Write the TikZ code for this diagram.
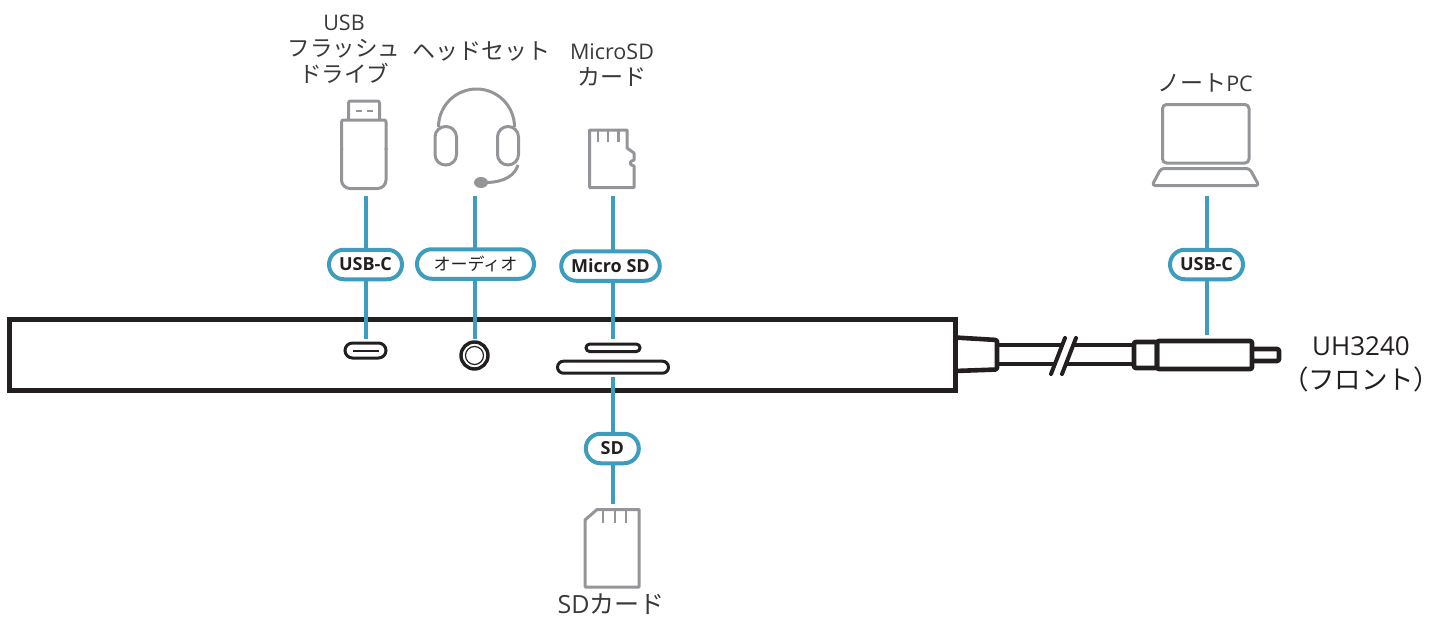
\documentclass[tikz,border=0pt]{standalone}
\usepackage{fontspec}
\setmainfont{Open Sans}
\newfontfamily\jp{Noto Sans CJK JP}
\newfontfamily\jpp[RawFeature=+palt]{Noto Sans CJK JP}
\usetikzlibrary{shapes.misc}
\definecolor{ink}{HTML}{231F20}
\definecolor{lab}{HTML}{3A3839}
\definecolor{icon}{HTML}{939598}
\definecolor{tealc}{HTML}{3E9DBF}
\tikzset{
  x=1pt,y=-1pt,
  link/.style={draw=tealc,line width=4pt},
  pill/.style={rounded rectangle,draw=tealc,line width=4pt,fill=white,inner sep=0pt,outer sep=0pt,font=\fontsize{18}{18}\selectfont\bfseries,text=ink,minimum height=29.5pt},
  ic/.style={draw=icon,line width=3pt,line join=round},
  hw/.style={draw=ink,line width=4.6pt,line join=round,rounded corners=1.5pt},
  hwbox/.style={draw=ink,line width=4.6pt,rounded corners=2pt,inner sep=0pt,outer sep=0pt,anchor=north west},
  slot/.style={rounded rectangle,draw=ink,line width=3pt,inner sep=0pt,outer sep=0pt},
  captxt/.style={inner sep=0pt,outer sep=0pt,align=center,text=lab,font=\fontsize{21.5}{26}\selectfont},
}
\begin{document}
\begin{tikzpicture}
\useasboundingbox (0,0) rectangle (1430,618);
% enclosure
\node[draw=ink,line width=5pt,rectangle,inner sep=0pt,outer sep=0pt,minimum width=945.2pt,minimum height=70.5pt,anchor=north west] (hub) at (9.8,319.8) {};
% cable
\draw[hw] (955,337.5) -- (997,340) -- (997,369.5) -- (955,371);
\draw[hw,rounded corners=0pt] (997,345) -- (1061,345) (997,364) -- (1054,364);
\draw[hw,rounded corners=0pt] (1072,345) -- (1135,345) (1065,364) -- (1135,364);
\draw[ink,line width=4pt,line cap=round] (1065,338) -- (1051,374) (1076,338) -- (1062,374);
\node[hwbox,minimum width=23pt,minimum height=26pt] (collar) at (1134,342) {};
\node[hwbox,minimum width=95pt,minimum height=28pt] (plug) at (1157,341) {};
\draw[hw] (1252,349) -- (1279,349) -- (1279,361) -- (1252,361);
% ports
\node[slot,minimum width=41pt,minimum height=15pt] (usbport) at (365.5,350.5) {};
\draw[ink,line width=1.4pt] (353,351) -- (379,351);
\node[circle,draw=ink,line width=3.4pt,inner sep=0pt,minimum size=27pt] (jack) at (474.5,355.5) {};
\node[circle,draw=ink,line width=1.2pt,inner sep=0pt,minimum size=18pt] (jackin) at (474.5,355.5) {};
\node[slot,minimum width=54pt,minimum height=7.5pt] (microslot) at (613,347.8) {};
\node[slot,minimum width=111pt,minimum height=12pt] (sdslot) at (613,367.2) {};
% link ends
\coordinate (usbA) at (366,196);\coordinate (usbB) at (366,339);
\coordinate (audA) at (475,196);\coordinate (audB) at (475,339);
\coordinate (micA) at (612.7,196);\coordinate (micB) at (612.7,339);
\coordinate (sdA) at (612.7,377);\coordinate (sdB) at (612.7,504);
\coordinate (pcA) at (1206.5,196);\coordinate (pcB) at (1206.5,335);
% pills
\node[pill,minimum width=73pt] (pUsb) at (365.5,264.5) {USB-C};
\node[pill,minimum width=117pt,font=\fontsize{17}{17}\selectfont\jp] (pAud) at (475.5,264) {オーディオ};
\node[pill,minimum width=98.5pt] (pMic) at (610.5,266) {Micro SD};
\node[pill,minimum width=53pt] (pSd) at (612.3,448.5) {SD};
\node[pill,minimum width=73pt] (pPc) at (1206.5,264.5) {USB-C};
% links
\foreach \a/\p/\b in {usbA/pUsb/usbB,audA/pAud/audB,micA/pMic/micB,sdA/pSd/sdB,pcA/pPc/pcB}{
  \draw[link] (\a) -- (\a |- \p.north);
  \draw[link] (\a |- \p.south) -- (\b);
}
% USB drive
\draw[ic,rounded corners=2pt] (348.5,119) -- (348.5,101) -- (379.5,101) -- (379.5,119);
\draw[ic,rounded corners=2pt] (341.5,150) -- (341.5,120) -- (386,120) -- (386,150);
\draw[ic,rounded corners=8.5pt] (341.5,148) -- (341.5,188.5) -- (386,188.5) -- (386,148);
\draw[icon,line width=2pt] (356,110.5) -- (362,110.5) (367,110.5) -- (373,110.5);
% headset
\draw[ic] (438.5,127) arc[start angle=180,end angle=360,radius=38];
\draw[ic,rounded corners=10.5pt,fill=white] (435,126.5) rectangle (456.5,165);
\draw[ic,rounded corners=10.5pt,fill=white] (497.5,126.5) rectangle (518.5,165);
\draw[ic] (518,165) .. controls (515,175) and (505,182) .. (487,182.5);
\fill[icon] (481,182.5) ellipse[x radius=7,y radius=5.5];
% micro SD card
\draw[ic] (589.5,130) -- (627,130) -- (627,148) -- (634,153) -- (634,160) .. controls (629,161) and (629,165) .. (634,166) -- (634,187.5) -- (589.5,187.5) -- cycle;
\draw[icon,line width=2.2pt] (598,130) -- (598,142) (608,130) -- (608,142) (618.5,130) -- (618.5,142);
% SD card
\draw[ic] (585,520) -- (597,509.5) -- (639,509.5) -- (639,587) -- (585,587) -- cycle;
\draw[icon,line width=2.4pt] (603,510) -- (603,523) (615,510) -- (615,523) (626,510) -- (626,523);
% laptop
\draw[ic,rounded corners=4pt] (1162.5,104.5) rectangle (1249,163);
\draw[ic,rounded corners=3pt] (1161,168.5) -- (1249.5,168.5) -- (1259,185.5) -- (1152,185.5) -- cycle;
% captions
\node[captxt] (cUsb) at (344,49.5) {USB\\{\jp\fontsize{22.5}{26}\selectfont フラッシュ}\\{\jp\fontsize{22.5}{26}\selectfont ドライブ}};
\node[captxt,font=\fontsize{23}{26}\selectfont\jp] (cHead) at (481,51) {ヘッドセット};
\node[captxt] (cMic) at (612,65.5) {MicroSD\\{\jp\fontsize{23}{26}\selectfont カード}};
\node[captxt] (cPc) at (1205,82.5) {{\jp\fontsize{23}{26}\selectfont ノート}PC};
\node[captxt,font=\fontsize{25}{26}\selectfont] (cSd) at (611,604) {SD{\jp カード}};
\node[captxt,text=ink,font=\fontsize{26}{34}\selectfont] (cHub) at (1361,364.5) {UH3240\\{\fontsize{26.5}{34}\selectfont{\jpp （}{\jp フロント}{\jpp ）}}};
\end{tikzpicture}
\end{document}
